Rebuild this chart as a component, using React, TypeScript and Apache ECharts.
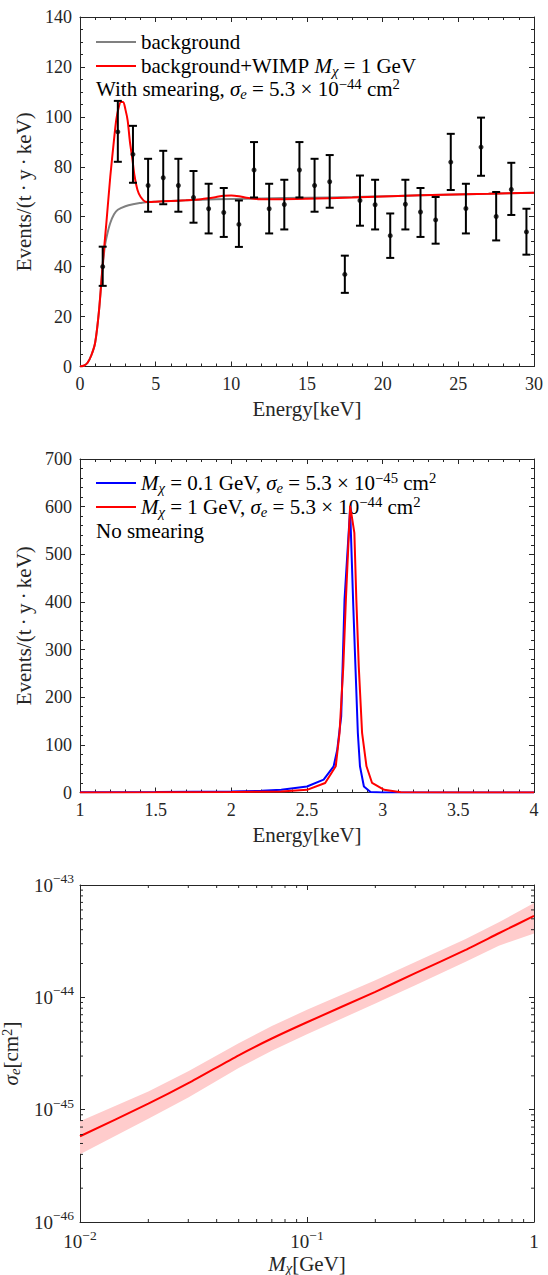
import React, { useEffect, useRef } from "react";
import * as echarts from "echarts";

const FONT = "'Liberation Serif', 'Times New Roman', serif";
const AX = "#262626";
const TXT = 21;

// ---------- Panel 1: spectrum with smearing ----------
const binEnergy = [1.5, 2.5, 3.5, 4.5, 5.5, 6.5, 7.5, 8.5, 9.5, 10.5, 11.5, 12.5, 13.5, 14.5, 15.5, 16.5, 17.5, 18.5, 19.5, 20.5, 21.5, 22.5, 23.5, 24.5, 25.5, 26.5, 27.5, 28.5, 29.5];
const binRate = [40, 94, 85, 72.5, 75.6, 72.5, 67.7, 63.2, 61.7, 56.9, 78.7, 63.2, 64.9, 78.7, 72.5, 74, 36.9, 66.5, 64.8, 52.4, 65, 61.9, 58.7, 81.9, 63.3, 87.9, 60.1, 70.9, 53.9];
const binLow = [32.3, 82, 73.6, 62, 65, 62, 57.6, 53.3, 51.9, 47.9, 67.7, 53.3, 54.9, 67.7, 62, 63.6, 29.5, 56.4, 54.9, 43.5, 54.9, 51.9, 49.2, 70.7, 53.3, 76.4, 50.5, 60.7, 44.8];
const binHigh = [48, 106.4, 96.4, 83.2, 86.4, 83.2, 78.3, 73.2, 71.5, 66.5, 89.9, 73.2, 74.8, 89.9, 83.2, 84.7, 44.4, 76.5, 74.8, 61.3, 74.8, 71.5, 67.9, 93.2, 73.2, 99.7, 69.9, 81.6, 63.2];

const bgEnergy = [0, 0.25, 0.5, 0.75, 1.0, 1.25, 1.5, 1.65, 1.8, 2.0, 2.25, 2.5, 3.0, 3.5, 4.0, 4.5, 6, 8, 10, 12, 15, 18, 21, 24, 27, 30];
const bgRate = [0, 0.3, 1.5, 4.5, 9.5, 22, 40, 48.5, 53, 57.5, 61, 62.8, 64.2, 65, 65.5, 65.9, 66.3, 66.8, 67.1, 67.3, 67.6, 67.9, 68.3, 68.8, 69.2, 69.6];

const sigEnergy = [0, 0.25, 0.5, 0.75, 1.0, 1.25, 1.5, 1.75, 2.0, 2.25, 2.4, 2.55, 2.7, 2.85, 3.0, 3.15, 3.3, 3.47, 3.6, 3.8, 4.0, 4.34, 4.6, 5, 6, 7, 8, 8.5, 9, 9.5, 10, 10.5, 11, 11.5, 12, 13, 15, 18, 21, 24, 27, 30];
const sigRate = [0, 0.3, 1.5, 4.5, 9.5, 22, 41, 58, 76, 91, 99, 103.5, 106, 106, 103, 98.5, 90, 82.7, 76.5, 70.7, 68, 66, 65.9, 66, 66.3, 66.6, 67, 67.4, 67.9, 68.4, 68.5, 68.2, 67.6, 67.2, 67, 67, 67.2, 67.7, 68.3, 68.8, 69.2, 69.6];

// ---------- Panel 2: no smearing ----------
const lightEnergy = [1.0, 1.5, 2.0, 2.2, 2.33, 2.5, 2.61, 2.676, 2.7, 2.726, 2.748, 2.785, 2.806, 2.82, 2.836, 2.85, 2.876, 2.92, 3.0, 3.5, 4.0];
const lightRate = [0.3, 0.8, 2, 3.5, 5.6, 12.6, 27, 55, 90, 160, 405, 595, 390, 265, 125, 55, 12.6, 1, 0.2, 0, 0];
const heavyEnergy = [1.0, 1.5, 2.0, 2.33, 2.5, 2.62, 2.69, 2.715, 2.74, 2.757, 2.785, 2.813, 2.826, 2.842, 2.864, 2.893, 2.93, 3.01, 3.12, 3.5, 4.0];
const heavyRate = [0.2, 0.4, 1, 2, 5.6, 20, 55, 125, 265, 405, 602, 545, 405, 265, 125, 55, 20, 5.6, 0.7, 0.1, 0];

// ---------- Panel 3: cross-section vs mass ----------
const massGeV = [0.01, 0.02, 0.03, 0.05, 0.07, 0.1, 0.2, 0.3, 0.5, 0.7, 1];
const sigmaLine = [5.8e-46, 1.13e-45, 1.72e-45, 3.05e-45, 4.3e-45, 6.0e-45, 1.12e-44, 1.64e-44, 2.65e-44, 3.72e-44, 5.3e-44];
const sigmaUpper = [7.9e-46, 1.45e-45, 2.2e-45, 3.9e-45, 5.55e-45, 7.75e-45, 1.42e-44, 2.06e-44, 3.3e-44, 4.65e-44, 6.9e-44];
const sigmaLower = [4.0e-46, 8.3e-46, 1.28e-45, 2.35e-45, 3.35e-45, 4.7e-45, 8.8e-45, 1.28e-44, 2.07e-44, 2.88e-44, 3.7e-44];
const massRange = [0.01, 1];
const sigmaRange = [1e-46, 1e-43];
const massMinorTicks = [0.02, 0.03, 0.04, 0.05, 0.06, 0.07, 0.08, 0.09, 0.2, 0.3, 0.4, 0.5, 0.6, 0.7, 0.8, 0.9];
const sigmaMinorTicks = [2e-46, 3e-46, 4e-46, 5e-46, 6e-46, 7e-46, 8e-46, 9e-46, 2e-45, 3e-45, 4e-45, 5e-45, 6e-45, 7e-45, 8e-45, 9e-45, 2e-44, 3e-44, 4e-44, 5e-44, 6e-44, 7e-44, 8e-44, 9e-44];

// the cross-section axis is plotted in units of 1e-46 cm^2 (avoids float rounding of tiny numbers)
const SIGMA_UNIT_EXP = -46;
const toUnit = (s: number) => s * Math.pow(10, -SIGMA_UNIT_EXP);

const richText = (size: number, color = "#000", lh = 8) => ({
  n: { fontSize: size, fontFamily: FONT, color, lineHeight: size + lh },
  i: { fontSize: size, fontFamily: FONT, color, fontStyle: "italic", lineHeight: size + lh },
  sub: { fontSize: size * 0.7, fontFamily: FONT, color, lineHeight: size * 0.75, verticalAlign: "bottom" },
  isub: { fontSize: size * 0.7, fontFamily: FONT, color, fontStyle: "italic", lineHeight: size * 0.75, verticalAlign: "bottom" },
  sup: { fontSize: size * 0.7, fontFamily: FONT, color, lineHeight: size * 0.75, verticalAlign: "top" },
});

function linAxis(grid: number, pos: string, min: number, max: number, interval: number, minorSplit: number, labels: boolean, extra: any = {}) {
  return {
    type: "value",
    gridIndex: grid,
    position: pos,
    min,
    max,
    interval,
    axisLine: { show: true, onZero: false, lineStyle: { color: AX, width: 1 } },
    axisTick: { show: true, inside: true, length: 5, lineStyle: { color: AX, width: 1 } },
    minorTick: { show: true, splitNumber: minorSplit, length: 3, lineStyle: { color: AX, width: 1 } },
    splitLine: { show: false },
    minorSplitLine: { show: false },
    axisLabel: { show: labels, color: AX, fontFamily: FONT, fontSize: 18, margin: 8, showMinLabel: true, showMaxLabel: true },
    ...extra,
  };
}

const logRich = {
  b: { fontSize: 19, fontFamily: FONT, color: AX, lineHeight: 27 },
  s: { fontSize: 13.5, fontFamily: FONT, color: AX, lineHeight: 15, verticalAlign: "top" },
};
const makeLogLabel = (offset: number) => (v: number) => {
  const e = Math.round(Math.log10(v)) + offset;
  if (e === 0) return "{b|1}";
  return `{b|10}{s|${e < 0 ? "\u2212" : ""}${Math.abs(e)}}`;
};

function logAxis(grid: number, pos: string, min: number, max: number, labels: boolean, offset: number, extra: any = {}) {
  return {
    type: "log",
    logBase: 10,
    gridIndex: grid,
    position: pos,
    min,
    max,
    axisLine: { show: true, onZero: false, lineStyle: { color: AX, width: 1 } },
    axisTick: { show: true, inside: true, length: 5, lineStyle: { color: AX, width: 1 } },
    minorTick: { show: false },
    splitLine: { show: false },
    axisLabel: { show: labels, formatter: makeLogLabel(offset), rich: logRich, margin: 6, showMinLabel: true, showMaxLabel: true },
    ...extra,
  };
}

const legendLine = (x: number, y: number, color: string) => ({
  type: "line",
  shape: { x1: x, y1: y, x2: x + 40, y2: y },
  style: { stroke: color, lineWidth: 2 },
});
const legendText = (x: number, y: number, text: string) => ({
  type: "text",
  x,
  y,
  style: { text, rich: richText(TXT, "#000", 4), verticalAlign: "middle", align: "left", fill: "#000", font: `${TXT}px ${FONT}` },
});

const DOT = "\u2009\u00b7\u2009";

function buildOption() {
  const yNameStyle = { fontFamily: FONT, fontSize: TXT, color: AX };
  const gridBase = { left: 80, right: 14, containLabel: false, outerBoundsMode: "none" };
  const sLo = toUnit(sigmaRange[0]);
  const sHi = toUnit(sigmaRange[1]);
  return {
    animation: false,
    grid: [
      { ...gridBase, top: 17, height: 349.5 },
      { ...gridBase, top: 459, height: 333.5 },
      { ...gridBase, top: 885, height: 337 },
    ],
    xAxis: [
      linAxis(0, "bottom", 0, 30, 5, 5, true, {
        name: "{n|Energy[keV]}",
        nameLocation: "middle",
        nameGap: 31,
        nameTextStyle: { rich: richText(TXT, AX, 2) },
      }),
      linAxis(0, "top", 0, 30, 5, 5, false),
      linAxis(1, "bottom", 1, 4, 0.5, 5, true, {
        name: "{n|Energy[keV]}",
        nameLocation: "middle",
        nameGap: 31,
        nameTextStyle: { rich: richText(TXT, AX, 2) },
      }),
      linAxis(1, "top", 1, 4, 0.5, 5, false),
      logAxis(2, "bottom", massRange[0], massRange[1], true, 0, {
        name: "{i|M}{isub|\u03c7}{n|[GeV]}",
        nameLocation: "middle",
        nameGap: 30,
        nameTextStyle: { rich: richText(TXT, AX, 2) },
      }),
      logAxis(2, "top", massRange[0], massRange[1], false, 0),
    ],
    yAxis: [
      linAxis(0, "left", 0, 140, 20, 4, true, {
        name: `Events/(t${DOT}y${DOT}keV)`,
        nameLocation: "middle",
        nameGap: 45,
        nameRotate: 90,
        nameTextStyle: yNameStyle,
      }),
      linAxis(0, "right", 0, 140, 20, 4, false),
      linAxis(1, "left", 0, 700, 100, 5, true, {
        name: `Events/(t${DOT}y${DOT}keV)`,
        nameLocation: "middle",
        nameGap: 45,
        nameRotate: 90,
        nameTextStyle: yNameStyle,
      }),
      linAxis(1, "right", 0, 700, 100, 5, false),
      logAxis(2, "left", sLo, sHi, true, SIGMA_UNIT_EXP, {
        name: "{i|\u03c3}{isub|e}{n|[cm}{sup|2}{n|]}",
        nameLocation: "middle",
        nameGap: 44,
        nameRotate: 90,
        nameTextStyle: { rich: richText(TXT, AX, 2) },
      }),
      logAxis(2, "right", sLo, sHi, false, SIGMA_UNIT_EXP),
    ],
    graphic: [
      legendLine(96, 42, "#808080"),
      legendText(141, 42, "{n|background}"),
      legendLine(96, 66, "#ff0000"),
      legendText(141, 66, "{n|background+WIMP }{i|M}{isub|\u03c7}{n| = 1 GeV}"),
      legendText(96, 89, "{n|With smearing, }{i|\u03c3}{isub|e}{n| = 5.3 \u00d7 10}{sup|\u221244}{n| cm}{sup|2}"),
      legendLine(96, 483, "#0000ff"),
      legendText(141, 483, "{i|M}{isub|\u03c7}{n| = 0.1 GeV, }{i|\u03c3}{isub|e}{n| = 5.3 \u00d7 10}{sup|\u221245}{n| cm}{sup|2}"),
      legendLine(96, 507, "#ff0000"),
      legendText(141, 507, "{i|M}{isub|\u03c7}{n| = 1 GeV, }{i|\u03c3}{isub|e}{n| = 5.3 \u00d7 10}{sup|\u221244}{n| cm}{sup|2}"),
      legendText(96, 531, "{n|No smearing}"),
    ],
    series: [
      {
        type: "line",
        xAxisIndex: 0,
        yAxisIndex: 0,
        data: bgEnergy.map((x, i) => [x, bgRate[i]]),
        showSymbol: false,
        symbol: "none",
        smooth: 0.3,
        lineStyle: { color: "#808080", width: 2 },
        z: 2,
      },
      {
        type: "line",
        xAxisIndex: 0,
        yAxisIndex: 0,
        data: sigEnergy.map((x, i) => [x, sigRate[i]]),
        showSymbol: false,
        symbol: "none",
        smooth: 0.3,
        lineStyle: { color: "#ff0000", width: 2 },
        z: 3,
      },
      {
        type: "custom",
        xAxisIndex: 0,
        yAxisIndex: 0,
        data: binEnergy.map((x, i) => [x, binLow[i], binHigh[i]]),
        encode: { x: 0, y: [1, 2] },
        z: 4,
        renderItem: (params: any, api: any) => {
          const x = api.value(0);
          const lo = api.coord([x, api.value(1)]);
          const hi = api.coord([x, api.value(2)]);
          const cap = 4;
          const st = { stroke: "#000", lineWidth: 2 };
          return {
            type: "group",
            children: [
              { type: "line", shape: { x1: lo[0], y1: lo[1], x2: hi[0], y2: hi[1] }, style: st },
              { type: "line", shape: { x1: lo[0] - cap, y1: lo[1], x2: lo[0] + cap, y2: lo[1] }, style: st },
              { type: "line", shape: { x1: hi[0] - cap, y1: hi[1], x2: hi[0] + cap, y2: hi[1] }, style: st },
            ],
          };
        },
      },
      {
        type: "scatter",
        xAxisIndex: 0,
        yAxisIndex: 0,
        data: binEnergy.map((x, i) => [x, binRate[i]]),
        symbolSize: 5,
        itemStyle: { color: "#000" },
        z: 5,
      },
      {
        type: "line",
        xAxisIndex: 2,
        yAxisIndex: 2,
        data: lightEnergy.map((x, i) => [x, lightRate[i]]),
        showSymbol: false,
        symbol: "none",
        lineStyle: { color: "#0000ff", width: 2 },
        z: 2,
      },
      {
        type: "line",
        xAxisIndex: 2,
        yAxisIndex: 2,
        data: heavyEnergy.map((x, i) => [x, heavyRate[i]]),
        showSymbol: false,
        symbol: "none",
        lineStyle: { color: "#ff0000", width: 2 },
        z: 3,
      },
      {
        type: "custom",
        xAxisIndex: 4,
        yAxisIndex: 4,
        data: massGeV.map((m, i) => [m, toUnit(sigmaLower[i]), toUnit(sigmaUpper[i])]),
        encode: { x: 0, y: [1, 2] },
        z: 1,
        renderItem: (params: any, api: any) => {
          if (params.dataIndex !== 0) return null;
          const pts: number[][] = [];
          massGeV.forEach((m, i) => pts.push(api.coord([m, toUnit(sigmaUpper[i])])));
          for (let i = massGeV.length - 1; i >= 0; i--) pts.push(api.coord([massGeV[i], toUnit(sigmaLower[i])]));
          return { type: "polygon", shape: { points: pts }, style: { fill: "#ffcccc", stroke: "none" } };
        },
      },
      {
        type: "line",
        xAxisIndex: 4,
        yAxisIndex: 4,
        data: massGeV.map((m, i) => [m, toUnit(sigmaLine[i])]),
        showSymbol: false,
        symbol: "none",
        smooth: 0.2,
        lineStyle: { color: "#ff0000", width: 2 },
        z: 3,
      },
      {
        type: "custom",
        xAxisIndex: 4,
        yAxisIndex: 4,
        data: massMinorTicks.map((m) => [m, sLo]),
        z: 5,
        silent: true,
        renderItem: (params: any, api: any) => {
          const v = api.value(0);
          const b = api.coord([v, sLo]);
          const t = api.coord([v, sHi]);
          const st = { stroke: AX, lineWidth: 1 };
          return {
            type: "group",
            children: [
              { type: "line", shape: { x1: b[0], y1: b[1], x2: b[0], y2: b[1] - 3 }, style: st },
              { type: "line", shape: { x1: t[0], y1: t[1], x2: t[0], y2: t[1] + 3 }, style: st },
            ],
          };
        },
      },
      {
        type: "custom",
        xAxisIndex: 4,
        yAxisIndex: 4,
        data: sigmaMinorTicks.map((s) => [massRange[0], toUnit(s)]),
        z: 5,
        silent: true,
        renderItem: (params: any, api: any) => {
          const v = api.value(1);
          const l = api.coord([massRange[0], v]);
          const r = api.coord([massRange[1], v]);
          const st = { stroke: AX, lineWidth: 1 };
          return {
            type: "group",
            children: [
              { type: "line", shape: { x1: l[0], y1: l[1], x2: l[0] + 3, y2: l[1] }, style: st },
              { type: "line", shape: { x1: r[0], y1: r[1], x2: r[0] - 3, y2: r[1] }, style: st },
            ],
          };
        },
      },
    ],
  };
}

export default function App() {
  const ref = useRef<HTMLDivElement>(null);
  useEffect(() => {
    if (!ref.current) return;
    const chart = echarts.init(ref.current, null, { renderer: "svg" });
    chart.setOption(buildOption() as any);
    return () => chart.dispose();
  }, []);
  return <div ref={ref} style={{ position: "absolute", left: 0, top: 0, width: 548, height: 1275, background: "#fff" }} />;
}
